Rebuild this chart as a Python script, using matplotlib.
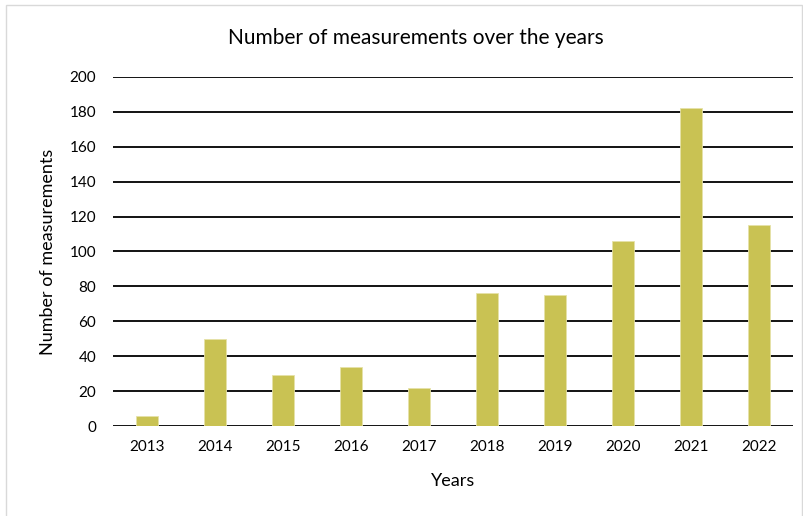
import matplotlib
matplotlib.use("Agg")
import matplotlib.pyplot as plt
from matplotlib.patches import Rectangle

years = ["2013", "2014", "2015", "2016", "2017", "2018", "2019", "2020", "2021", "2022"]
counts = [6, 50, 29, 34, 22, 76, 75, 106, 182, 115]
yticks = [0, 20, 40, 60, 80, 100, 120, 140, 160, 180, 200]

plt.rcParams['font.family'] = ['Lato', 'DejaVu Sans']

fig = plt.figure(figsize=(8.04, 5.16), dpi=100)
ax = fig.add_axes([0.1405, 0.1744, 0.8455, 0.6764])

x = list(range(len(years)))
ax.bar(x, counts, width=0.33, color="#C9C253", edgecolor="#E6E2A8", linewidth=0.6, zorder=3)

ax.set_xlim(-0.5, len(years) - 0.5)
ax.set_ylim(0, 200)
ax.set_yticks(yticks)
ax.set_xticks(x)
ax.set_xticklabels(years)
ax.yaxis.grid(True, color="black", linewidth=1.3, zorder=0)
ax.set_axisbelow(True)
for s in ax.spines.values():
    s.set_visible(False)
ax.tick_params(axis="both", length=0, labelsize=11)
ax.tick_params(axis="x", pad=10)
ax.tick_params(axis="y", pad=12)

fig.text(0.517, 1 - 38 / 516, "Number of measurements over the years", fontsize=15,
         ha="center", va="center")
ax.set_xlabel("Years", fontsize=13, labelpad=14)
ax.set_ylabel("Number of measurements", fontsize=13, labelpad=10)

fig.patches.append(Rectangle((0.008, -0.01), 0.99, 1.0, transform=fig.transFigure,
                             fill=False, edgecolor="#D9D9D9", linewidth=1))

fig.savefig("out.png", dpi=100)
